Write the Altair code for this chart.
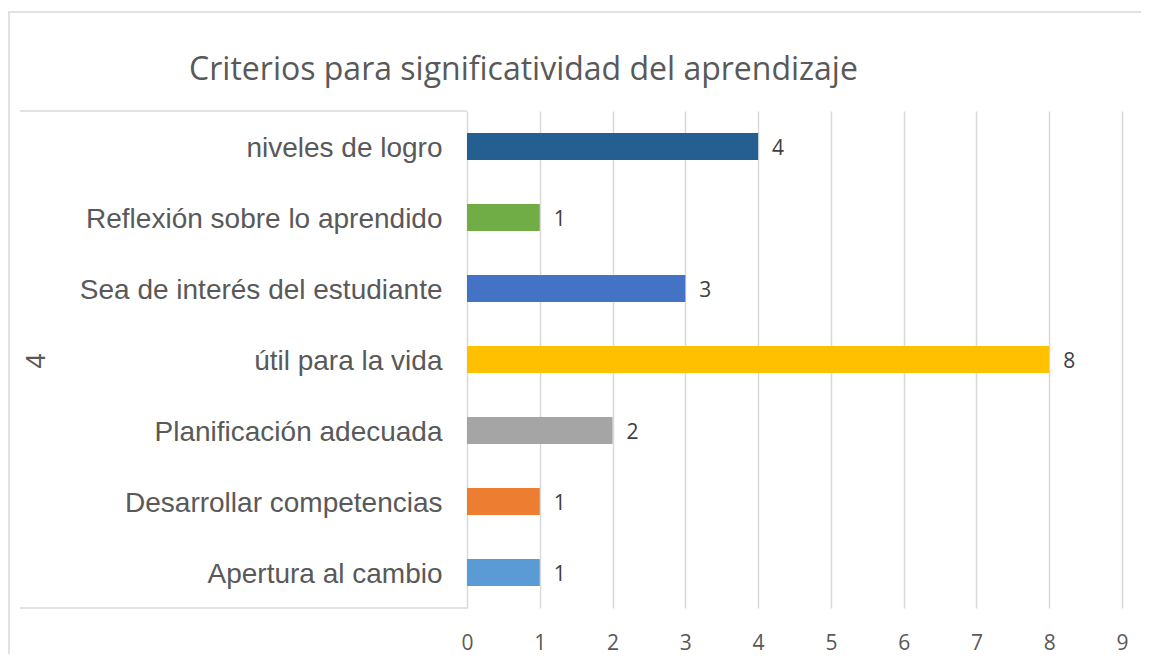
import altair as alt
import pandas as pd

categories = [
    "niveles de logro",
    "Reflexión sobre lo aprendido",
    "Sea de interés del estudiante",
    "útil para la vida",
    "Planificación adecuada",
    "Desarrollar competencias",
    "Apertura al cambio",
]
values = [4, 1, 3, 8, 2, 1, 1]
colors = ["#255E91", "#70AD47", "#4472C4", "#FFC000", "#A5A5A5", "#ED7D31", "#5B9BD5"]
x_ticks = [0, 1, 2, 3, 4, 5, 6, 7, 8, 9]
group_label = ["4"]
title_text = ["Criterios para significatividad del aprendizaje"]

df = pd.DataFrame({"cat": categories, "val": values})
one = pd.DataFrame({"k": [0]})

W, H = 655, 497
GRID = "#D9D9D9"

y_enc = alt.Y(
    "cat:N",
    sort=categories,
    scale=alt.Scale(paddingInner=0.62, paddingOuter=0.31),
    axis=alt.Axis(
        title=None,
        ticks=False,
        tickSize=0,
        domain=False,
        labelFont="Liberation Sans",
        labelFontSize=28,
        labelColor="#595959",
        labelPadding=25,
        labelOffset=2,
        labelLimit=500,
    ),
)
x_enc = alt.X(
    "val:Q",
    scale=alt.Scale(domain=[0, 9], nice=False, zero=True),
    axis=alt.Axis(
        title=None,
        values=x_ticks,
        ticks=False,
        tickSize=0,
        domain=False,
        grid=True,
        gridColor=GRID,
        gridWidth=1.5,
        labelFont="Open Sans",
        labelFontSize=21,
        labelColor="#595959",
        labelBaseline="middle",
        labelPadding=35,
        labelFlush=False,
        format="d",
    ),
)

bars = alt.Chart(df).mark_bar().encode(
    y=y_enc,
    x=x_enc,
    color=alt.Color("cat:N", scale=alt.Scale(domain=categories, range=colors), legend=None),
)

labels = alt.Chart(df).mark_text(
    align="left", baseline="middle", dx=14, dy=2, font="Open Sans", fontSize=21, color="#404040"
).encode(y=alt.Y("cat:N", sort=categories), x="val:Q", text="val:Q")

group = alt.Chart(pd.DataFrame({"g": group_label})).mark_text(
    angle=270, align="center", baseline="middle", font="Liberation Sans", fontSize=28, color="#595959"
).encode(text="g:N", x=alt.value(-430), y=alt.value(250))

title = alt.Chart(pd.DataFrame({"t": title_text})).mark_text(
    align="center", baseline="alphabetic", font="Open Sans", fontSize=32, color="#595959"
).encode(text="t:N", x=alt.value(56.5), y=alt.value(-31))

rule_style = dict(color=GRID, strokeWidth=1.5)
box_top = alt.Chart(one).mark_rule(**rule_style).encode(
    x=alt.value(-447), x2=alt.value(0), y=alt.value(0)
)
box_bottom = alt.Chart(one).mark_rule(**rule_style).encode(
    x=alt.value(-447), x2=alt.value(0), y=alt.value(H)
)
outer_top = alt.Chart(one).mark_rule(**rule_style).encode(
    x=alt.value(-459), x2=alt.value(700), y=alt.value(-99)
)
outer_left = alt.Chart(one).mark_rule(**rule_style).encode(
    x=alt.value(-458), y=alt.value(-99), y2=alt.value(560)
)

chart = alt.layer(
    outer_top, outer_left, box_top, box_bottom, bars, labels, group, title
).properties(
    width=W,
    height=H,
    autosize=alt.AutoSizeParams(type="none"),
    padding={"left": 459, "top": 103, "right": 19, "bottom": 46},
).configure_view(strokeWidth=0)

chart.save("out.html", embed_options={"renderer": "svg", "actions": False})
